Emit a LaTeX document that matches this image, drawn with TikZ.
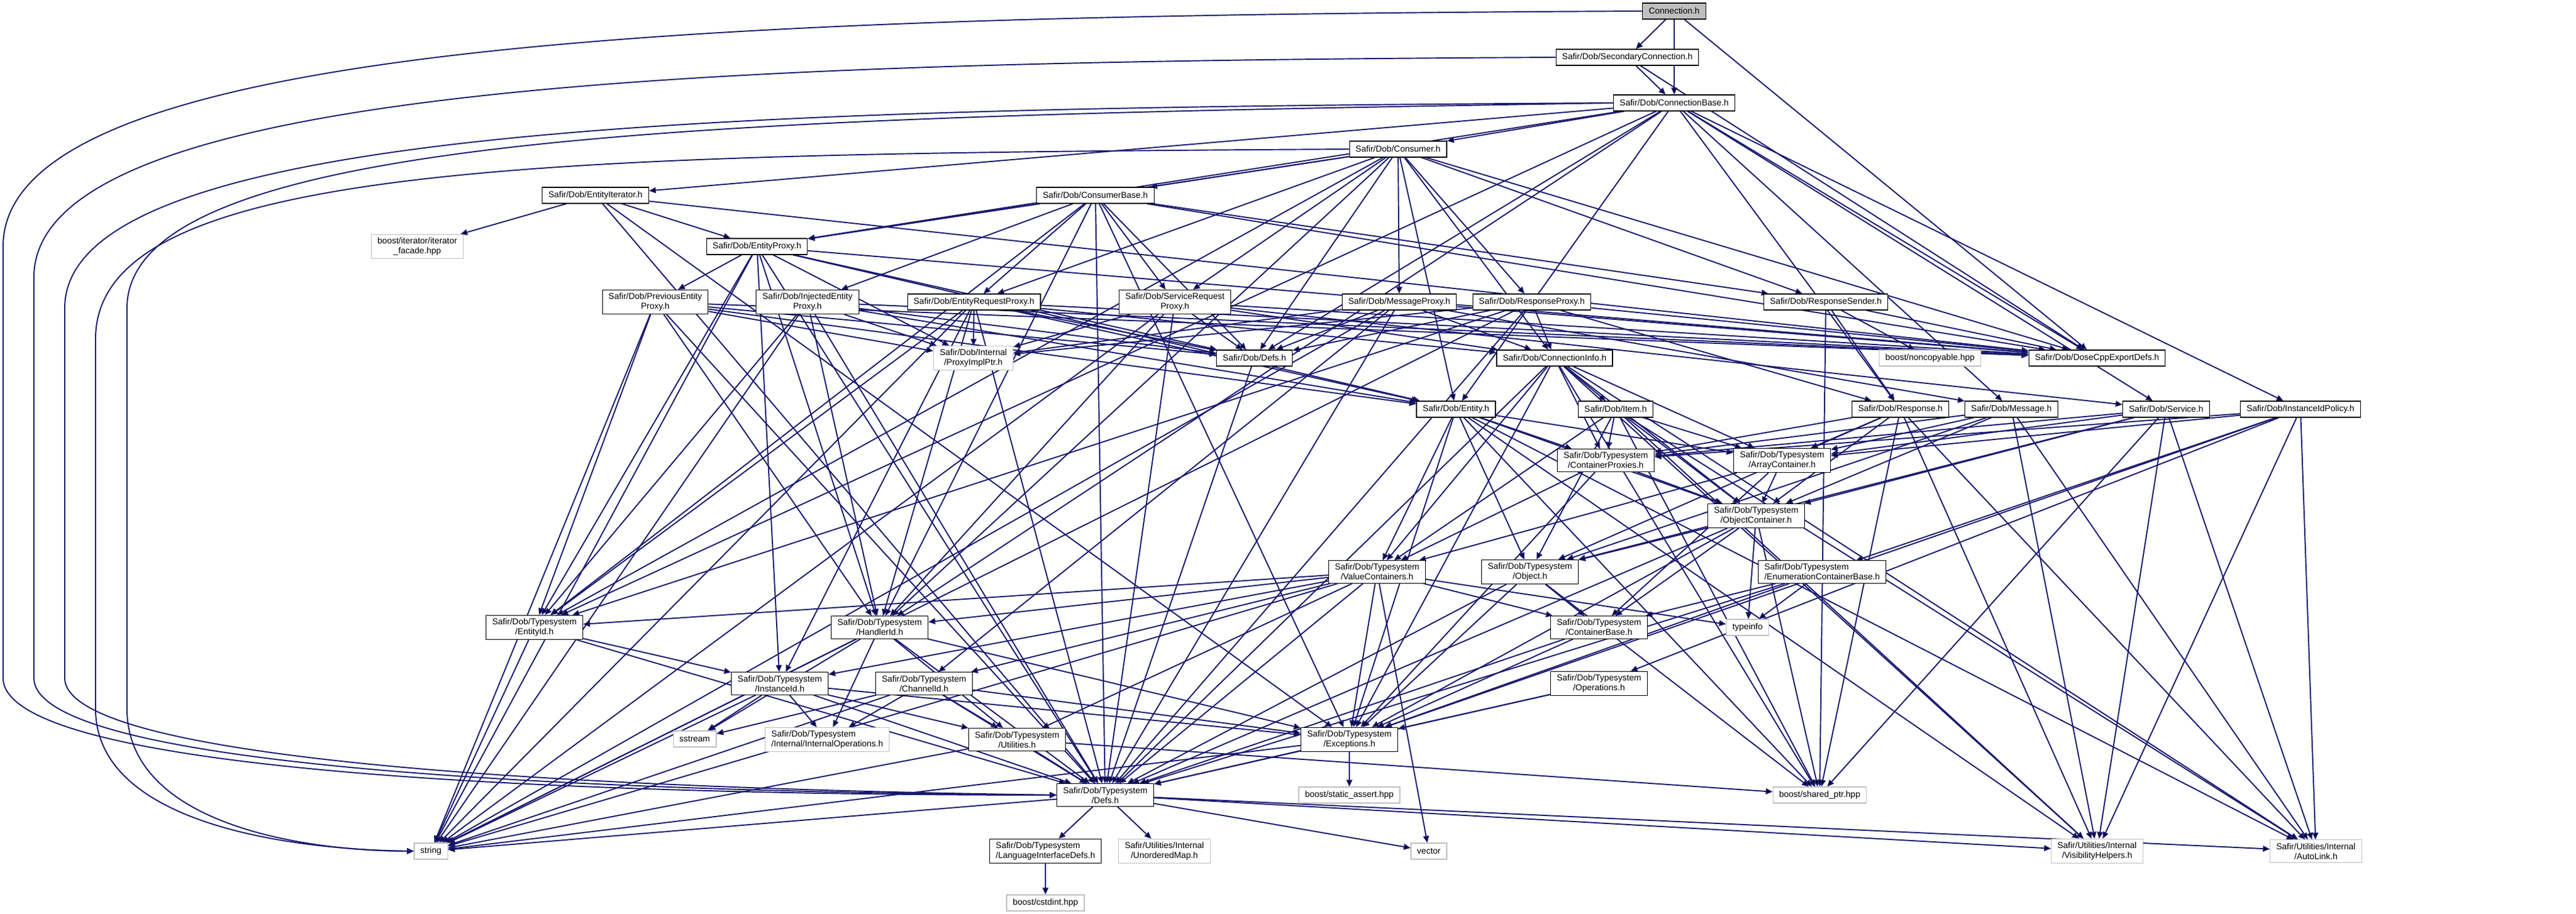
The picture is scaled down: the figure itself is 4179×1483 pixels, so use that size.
\documentclass[tikz,border=0pt]{standalone}
\usepackage{fontspec}
\setmainfont{Liberation Sans}
\usetikzlibrary{arrows.meta}
\definecolor{edgeblue}{HTML}{191970}
\definecolor{boxgrey}{HTML}{BFBFBF}
\pgfdeclarelayer{background}
\pgfsetlayers{background,main}
\tikzset{
  hdr/.style={draw=black, fill=white, line width=0.35pt, align=center,
    font=\fontsize{3.98}{4.55}\selectfont, inner xsep=0.1cm, inner ysep=0.05cm,
    minimum height=0.26cm},
  syshdr/.style={hdr, draw=boxgrey},
  inc/.style={draw=edgeblue, line width=0.55pt, -{Triangle[length=0.11cm,width=0.095cm]}}
}

\begin{document}
\begin{tikzpicture}[x=0.01cm,y=-0.01cm]
\useasboundingbox (0,0) rectangle (4179,1483);
% files, row by row
\node[hdr, fill=boxgrey] (conn) at (2716,18) {Connection.h};
\node[hdr] (secconn) at (2640,93) {Safir/Dob/SecondaryConnection.h};
\node[hdr] (connbase) at (2716,167) {Safir/Dob/ConnectionBase.h};
\node[hdr] (consumer) at (2268,242) {Safir/Dob/Consumer.h};
\node[hdr] (entiter) at (966,317) {Safir/Dob/EntityIterator.h};
\node[hdr] (consbase) at (1777,317) {Safir/Dob/ConsumerBase.h};
\node[hdr] (entproxy) at (1228,400) {Safir/Dob/EntityProxy.h};
\node[syshdr] (iterfac) at (677,400) {boost/iterator/iterator\\\_facade.hpp};
\node[hdr] (prevproxy) at (1063,490) {Safir/Dob/PreviousEntity\\Proxy.h};
\node[hdr] (injproxy) at (1310,490) {Safir/Dob/InjectedEntity\\Proxy.h};
\node[hdr] (entreqproxy) at (1580,490) {Safir/Dob/EntityRequestProxy.h};
\node[hdr] (srvreqproxy) at (1906,490) {Safir/Dob/ServiceRequest\\Proxy.h};
\node[hdr] (msgproxy) at (2270,490) {Safir/Dob/MessageProxy.h};
\node[hdr] (respproxy) at (2485,490) {Safir/Dob/ResponseProxy.h};
\node[hdr] (respsender) at (2962,490) {Safir/Dob/ResponseSender.h};
\node[syshdr] (proxyimpl) at (1579,581) {Safir/Dob/Internal\\/ProxyImplPtr.h};
\node[hdr] (dobdefs) at (2035,581) {Safir/Dob/Defs.h};
\node[hdr] (conninfo) at (2522,581) {Safir/Dob/ConnectionInfo.h};
\node[syshdr] (noncopy) at (3131,581) {boost/noncopyable.hpp};
\node[hdr] (dosedefs) at (3402,581) {Safir/Dob/DoseCppExportDefs.h};
\node[hdr] (entity) at (2362,664) {Safir/Dob/Entity.h};
\node[hdr] (item) at (2621,664) {Safir/Dob/Item.h};
\node[hdr] (response) at (3083,664) {Safir/Dob/Response.h};
\node[hdr] (message) at (3263,664) {Safir/Dob/Message.h};
\node[hdr] (service) at (3514,664) {Safir/Dob/Service.h};
\node[hdr] (iidpolicy) at (3732,664) {Safir/Dob/InstanceIdPolicy.h};
\node[hdr] (contproxies) at (2605,747) {Safir/Dob/Typesystem\\/ContainerProxies.h};
\node[hdr] (arraycont) at (2891,747) {Safir/Dob/Typesystem\\/ArrayContainer.h};
\node[hdr] (objcont) at (2849,837) {Safir/Dob/Typesystem\\/ObjectContainer.h};
\node[hdr] (valconts) at (2234,928) {Safir/Dob/Typesystem\\/ValueContainers.h};
\node[hdr] (object) at (2482,928) {Safir/Dob/Typesystem\\/Object.h};
\node[hdr, align=left] (enumcont) at (2956,928) {Safir/Dob/Typesystem\\/EnumerationContainerBase.h};
\node[hdr] (entityid) at (867,1018) {Safir/Dob/Typesystem\\/EntityId.h};
\node[hdr] (handlerid) at (1427,1018) {Safir/Dob/Typesystem\\/HandlerId.h};
\node[hdr] (contbase) at (2594,1018) {Safir/Dob/Typesystem\\/ContainerBase.h};
\node[syshdr] (typeinfo) at (2835,1018) {typeinfo};
\node[hdr] (instid) at (1265,1109) {Safir/Dob/Typesystem\\/InstanceId.h};
\node[hdr] (chanid) at (1499,1109) {Safir/Dob/Typesystem\\/ChannelId.h};
\node[hdr] (ops) at (2594,1109) {Safir/Dob/Typesystem\\/Operations.h};
\node[syshdr] (sstream) at (1127,1199) {sstream};
\node[syshdr, align=left] (intops) at (1342,1200) {Safir/Dob/Typesystem\\/Internal/InternalOperations.h};
\node[hdr] (utils) at (1650,1200) {Safir/Dob/Typesystem\\/Utilities.h};
\node[hdr] (exceptions) at (2189,1200) {Safir/Dob/Typesystem\\/Exceptions.h};
\node[hdr] (tsdefs) at (1793,1290) {Safir/Dob/Typesystem\\/Defs.h};
\node[syshdr] (staticassert) at (2189,1290) {boost/static\_assert.hpp};
\node[syshdr] (sharedptr) at (2952,1290) {boost/shared\_ptr.hpp};
\node[syshdr] (string) at (699,1381) {string};
\node[hdr, align=left] (langdefs) at (1696,1381) {Safir/Dob/Typesystem\\/LanguageInterfaceDefs.h};
\node[syshdr] (unordmap) at (1889,1381) {Safir/Utilities/Internal\\/UnorderedMap.h};
\node[syshdr] (vector) at (2318,1381) {vector};
\node[syshdr] (vishelp) at (3402,1381) {Safir/Utilities/Internal\\/VisibilityHelpers.h};
\node[syshdr] (autolink) at (3757,1381) {Safir/Utilities/Internal\\/AutoLink.h};
\node[syshdr] (cstdint) at (1696,1465) {boost/cstdint.hpp};

\begin{pgfonlayer}{background}
\fill[white] (0,0) rectangle (4179,1483);
% includes, one source per line
\draw[inc] (conn) edge (secconn) edge (connbase) edge (dosedefs);
\draw[inc] (secconn) edge (connbase) edge (dosedefs);
\draw[inc] (connbase) edge (consumer) edge (entiter) edge (entproxy) edge (dobdefs) edge (dosedefs) edge (entity) edge (response) edge (message) edge (service) edge (iidpolicy) edge (entityid) edge (handlerid);
\draw[inc] (consumer) edge (consbase) edge (entproxy) edge (entreqproxy) edge (srvreqproxy) edge (msgproxy) edge (respproxy) edge (respsender) edge (dobdefs) edge (dosedefs) edge (entity) edge (entityid) edge (handlerid) edge (conninfo);
\draw[inc] (consbase) edge (entproxy) edge (injproxy) edge (entreqproxy) edge (srvreqproxy) edge (dobdefs) edge (dosedefs) edge (respsender) edge (entityid) edge (handlerid) edge (tsdefs) edge (exceptions);
\draw[inc] (entiter) edge (iterfac) edge (entproxy) edge (dosedefs) edge (exceptions) edge (tsdefs);
\draw[inc] (entproxy) edge (prevproxy) edge (proxyimpl) edge (dobdefs) edge (dosedefs) edge (entity) edge (entityid) edge (handlerid) edge (instid) edge (tsdefs) edge (string);
\draw[inc] (prevproxy) edge (proxyimpl) edge (dobdefs) edge (dosedefs) edge (entity) edge (entityid) edge (handlerid) edge (tsdefs) edge (string);
\draw[inc] (injproxy) edge (proxyimpl) edge (dobdefs) edge (dosedefs) edge (entity) edge (entityid) edge (handlerid) edge (tsdefs) edge (string);
\draw[inc] (entreqproxy) edge (proxyimpl) edge (dobdefs) edge (dosedefs) edge (entity) edge (entityid) edge (handlerid) edge (instid) edge (tsdefs) edge (string) edge (conninfo);
\draw[inc] (srvreqproxy) edge (proxyimpl) edge (dobdefs) edge (dosedefs) edge (service) edge (handlerid) edge (conninfo) edge (tsdefs) edge (string);
\draw[inc] (msgproxy) edge (proxyimpl) edge (dobdefs) edge (dosedefs) edge (message) edge (chanid) edge (conninfo) edge (tsdefs) edge (string);
\draw[inc] (respproxy) edge (proxyimpl) edge (dobdefs) edge (dosedefs) edge (response) edge (conninfo) edge (entityid) edge (tsdefs) edge (string);
\draw[inc] (respsender) edge (dosedefs) edge (noncopy) edge (response) edge (sharedptr);
\draw[inc] (dobdefs) edge (tsdefs);
\draw[inc] (conninfo) edge (item) edge (contproxies) edge (arraycont) edge (objcont) edge (valconts) edge (exceptions) edge (tsdefs) edge (sharedptr) edge (vishelp) edge (autolink);
\draw[inc] (entity) edge (object) edge (contproxies) edge (arraycont) edge (objcont) edge (valconts) edge (exceptions) edge (sharedptr) edge (vishelp) edge (autolink);
\draw[inc] (item) edge (object) edge (contproxies) edge (arraycont) edge (objcont) edge (valconts) edge (sharedptr) edge (vishelp) edge (autolink);
\draw[inc] (response) edge (object) edge (contproxies) edge (arraycont) edge (objcont) edge (sharedptr) edge (vishelp) edge (autolink);
\draw[inc] (message) edge (object) edge (contproxies) edge (arraycont) edge (objcont) edge (vishelp) edge (autolink);
\draw[inc] (service) edge (object) edge (contproxies) edge (arraycont) edge (objcont) edge (sharedptr) edge (vishelp) edge (autolink);
\draw[inc] (iidpolicy) edge (enumcont) edge (ops) edge (arraycont) edge (contproxies) edge (exceptions) edge (vishelp) edge (autolink);
\draw[inc] (contproxies) edge (objcont) edge (valconts) edge (exceptions);
\draw[inc] (arraycont) edge (objcont) edge (valconts) edge (contbase);
\draw[inc] (objcont) edge (object) edge (contbase) edge (exceptions) edge (tsdefs) edge (sharedptr) edge (typeinfo);
\draw[inc] (valconts) edge (entityid) edge (handlerid) edge (instid) edge (chanid) edge (contbase) edge (exceptions) edge (utils) edge (tsdefs) edge (string) edge (typeinfo) edge (vector);
\draw[inc] (object) edge (contbase) edge (exceptions) edge (tsdefs) edge (sharedptr);
\draw[inc] (enumcont) edge (contbase) edge (typeinfo) edge (exceptions) edge (tsdefs);
\draw[inc] (contbase) edge (exceptions) edge (tsdefs);
\draw[inc] (ops) edge (exceptions) edge (tsdefs);
\draw[inc] (entityid) edge (instid) edge (tsdefs) edge (string);
\draw[inc] (handlerid) edge (intops) edge (sstream) edge (utils) edge (exceptions) edge (tsdefs) edge (string);
\draw[inc] (instid) edge (sstream) edge (intops) edge (utils) edge (exceptions) edge (tsdefs) edge (string);
\draw[inc] (chanid) edge (sstream) edge (intops) edge (utils) edge (exceptions) edge (tsdefs) edge (string);
\draw[inc] (utils) edge (tsdefs) edge (string) edge (sharedptr);
\draw[inc] (exceptions) edge (tsdefs) edge (staticassert) edge (string);
\draw[inc] (tsdefs) edge (langdefs) edge (unordmap) edge (vector) edge (string) edge (vishelp) edge (autolink);
\draw[inc] (langdefs) edge (cstdint);
% long ones round the left edge
\draw[inc] (conn.west) .. controls (1200,25) and (5,60) .. (5,400) -- (5,1100) .. controls (5,1260) and (1000,1290) .. (tsdefs.west);
\draw[inc] (secconn.west) .. controls (1200,100) and (55,130) .. (55,450) -- (55,1100) .. controls (55,1250) and (1000,1285) .. (tsdefs.west);
\draw[inc] (connbase.west) .. controls (1200,175) and (105,200) .. (105,500) -- (105,1100) .. controls (105,1240) and (1000,1280) .. (tsdefs.west);
\draw[inc] (consumer.west) .. controls (900,250) and (155,260) .. (155,550) -- (155,1150) .. controls (155,1330) and (450,1378) .. (string.west);
\draw[inc] (connbase.west) .. controls (1200,190) and (206,210) .. (206,500) -- (206,1150) .. controls (206,1340) and (500,1381) .. (string.west);
\end{pgfonlayer}
\end{tikzpicture}
\end{document}
